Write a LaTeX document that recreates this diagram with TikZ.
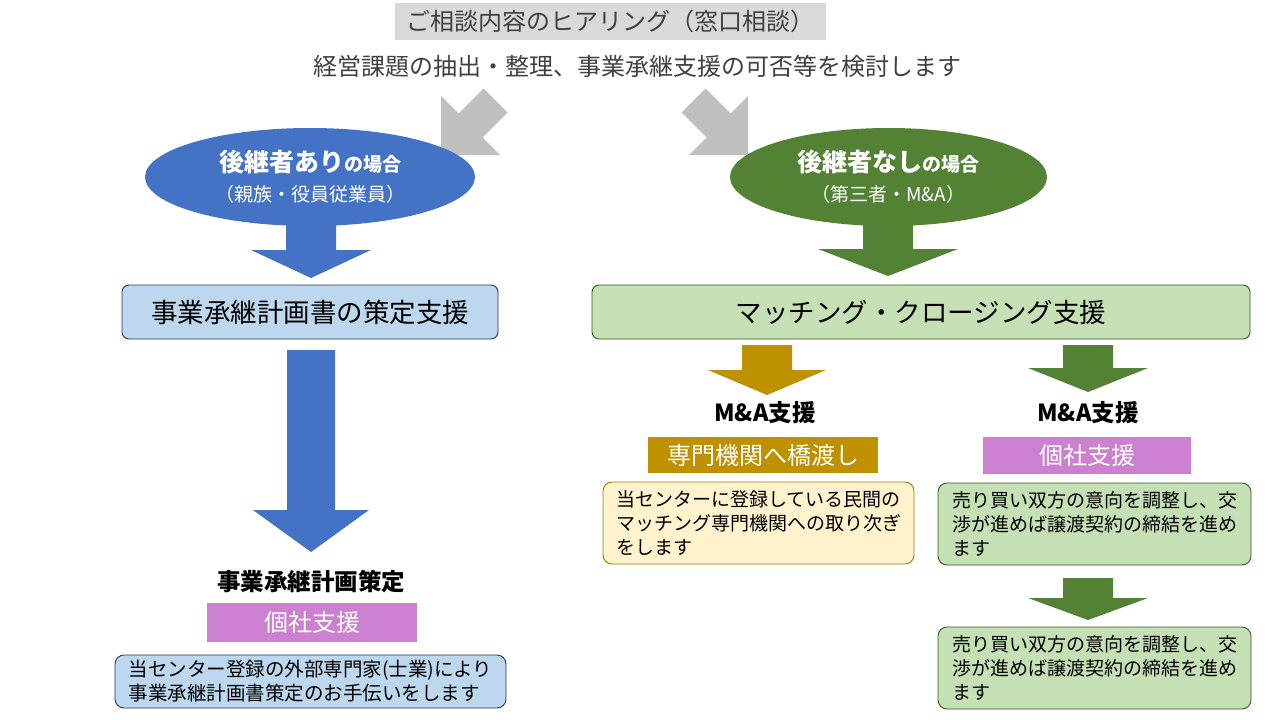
\documentclass[tikz,border=0pt]{standalone}
\usepackage{fontspec}
\setmainfont{Noto Sans CJK JP}
\usetikzlibrary{shapes.geometric}
\definecolor{cblue}{HTML}{4472C4}
\definecolor{cgreen}{HTML}{548235}
\definecolor{cgold}{HTML}{BF9000}
\definecolor{cpurple}{HTML}{CC80D0}
\definecolor{lblue}{HTML}{BDD7EE}
\definecolor{lgreen}{HTML}{C5E0B4}
\definecolor{lyellow}{HTML}{FFF2CC}
\definecolor{bblue}{HTML}{203864}
\definecolor{bgreen}{HTML}{385723}
\definecolor{bgold}{HTML}{9C7A00}
\definecolor{cgray}{HTML}{BFBFBF}
\definecolor{tgray}{HTML}{D9D9D9}
\definecolor{txt}{HTML}{404040}
\newcommand\fsz[2]{\fontsize{#1}{#2}\selectfont}
\newcommand\blkdown[7]{%
  \fill[#1] (#2-#6,#3) -- (#2+#6,#3) -- (#2+#6,#4) -- (#2+#7,#4) -- (#2,#5)
    -- (#2-#7,#4) -- (#2-#6,#4) -- cycle;}
\tikzset{
  oval/.style={ellipse, inner sep=0pt, align=center, text=white},
  bigbox/.style={draw, rounded corners=7pt, line width=0.9pt, inner sep=0pt,
    font=\fsz{26.5pt}{30pt}},
  tagbox/.style={inner sep=0pt, text=white, font=\fsz{24pt}{28pt}},
  notebox/.style={draw, rounded corners=9pt, line width=0.9pt, inner sep=0pt,
    align=left, font=\fsz{19pt}{24pt}},
  headtxt/.style={inner sep=0pt, font=\fsz{23.5pt}{27pt}\bfseries},
}
\begin{document}
\begin{tikzpicture}[x=1pt,y=-1pt]
\useasboundingbox (0,0) rectangle (1280,720);
\fill[white] (0,0) rectangle (1280,720);

% top
\node[fill=tgray, minimum width=431, minimum height=37, inner sep=0pt,
  text=txt, font=\fsz{24pt}{28pt}] (hear) at (610.5,21.5) {ご相談内容のヒアリング（窓口相談）};
\node[inner sep=0pt, text=txt, font=\fsz{24pt}{28pt}] (sub) at (637,66)
  {経営課題の抽出・整理、事業承継支援の可否等を検討します};

% gray diagonal arrows
\fill[cgray] (441,155) -- (441,96) -- (458.5,113.5) -- (483.5,88.5) -- (507.5,112.5)
  -- (482.5,137.5) -- (500,155) -- cycle;
\fill[cgray] (748,155) -- (748,96) -- (730.5,113.5) -- (705.5,88.5) -- (681.5,112.5)
  -- (706.5,137.5) -- (689,155) -- cycle;

% ellipses
\node[oval, fill=cblue, minimum width=330, minimum height=98, font=\fsz{19pt}{30pt}]
  (succA) at (310,177)
  {{\fsz{25pt}{30pt}\bfseries 後継者あり}{\bfseries\fsz{19pt}{30pt}の場合}\\（親族・役員従業員）};
\node[oval, fill=cgreen, minimum width=317, minimum height=98, font=\fsz{19pt}{30pt}]
  (succN) at (888.5,177)
  {{\fsz{25pt}{30pt}\bfseries 後継者なし}{\bfseries\fsz{19pt}{30pt}の場合}\\（第三者・M\&A）};

% arrows from ellipses
\blkdown{cblue}{311}{225}{250}{278}{25}{60}
\blkdown{cgreen}{888}{225}{249}{276}{25}{70}

% main boxes
\node[bigbox, fill=lblue, draw=bblue, minimum width=376, minimum height=54]
  (plan) at (310,312) {事業承継計画書の策定支援};
\node[bigbox, fill=lgreen, draw=bgreen, minimum width=658, minimum height=54]
  (match) at (921,312) {マッチング・クロージング支援};

% left column
\blkdown{cblue}{311}{350}{510}{552}{24}{58}
\node[headtxt] (planT) at (311,582) {事業承継計画策定};
\node[tagbox, fill=cpurple, minimum width=210, minimum height=39] (tagL) at (312,622.5) {個社支援};
\node[notebox, fill=lblue, draw=bblue, minimum width=391, minimum height=53, font=\fsz{19.5pt}{24pt}]
  (noteL) at (310.5,681.5) {当センター登録の外部専門家(士業)により\\事業承継計画書策定のお手伝いをします};

% middle column
\blkdown{cgold}{767}{345}{370}{395}{25}{59}
\node[headtxt] (maT1) at (765,413) {M\&A支援};
\node[tagbox, fill=cgold, minimum width=230, minimum height=36] (tagM) at (763,455) {専門機関へ橋渡し};
\node[notebox, fill=lyellow, draw=bgold, minimum width=311, minimum height=82]
  (noteM) at (758.5,523) {当センターに登録している民間の\\マッチング専門機関への取り次ぎ\\をします};

% right column
\blkdown{cgreen}{1088}{345}{368}{392}{25}{60}
\node[headtxt] (maT2) at (1088,413) {M\&A支援};
\node[tagbox, fill=cpurple, minimum width=208, minimum height=37] (tagR) at (1087,455.5) {個社支援};
\node[notebox, fill=lgreen, draw=bgreen, minimum width=313, minimum height=82]
  (noteR1) at (1094.5,524) {売り買い双方の意向を調整し、交\\渉が進めば譲渡契約の締結を進め\\ます};
\blkdown{cgreen}{1088}{578}{598}{620}{25}{60}
\node[notebox, fill=lgreen, draw=bgreen, minimum width=313, minimum height=82]
  (noteR2) at (1094.5,668) {売り買い双方の意向を調整し、交\\渉が進めば譲渡契約の締結を進め\\ます};
\end{tikzpicture}
\end{document}
